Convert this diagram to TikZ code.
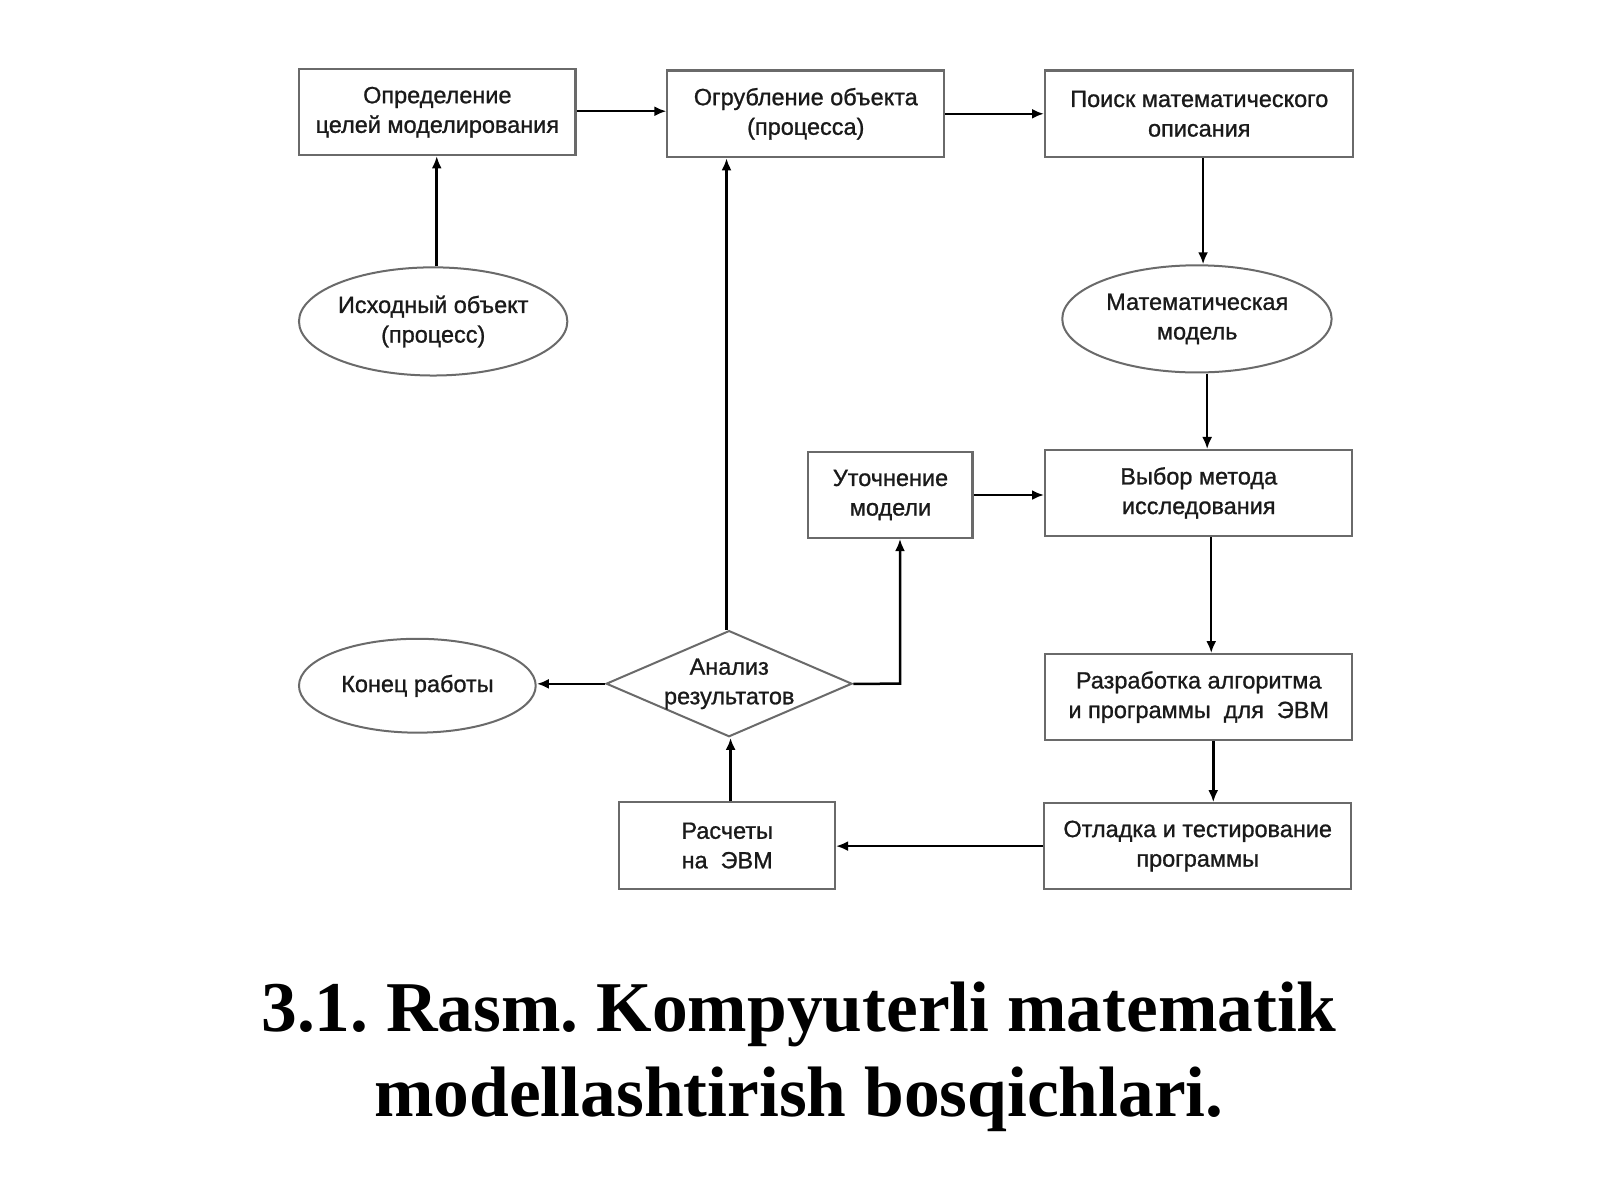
\documentclass[tikz,border=0pt]{standalone}
\usepackage{fontspec}
\setmainfont{Liberation Serif}
\newfontfamily\boxfont[FakeBold=1.0]{Liberation Sans}
\usetikzlibrary{shapes.geometric,arrows.meta}
\definecolor{edge}{HTML}{6A6A6A}
\definecolor{ink}{HTML}{1A1A1A}
\tikzset{
  txt/.style={font=\boxfont\fontsize{23}{29}\selectfont, text=ink, align=center, inner sep=0pt},
  boxnode/.style={draw=edge, line width=2.2pt, rectangle, inner sep=0pt, fill=white},
  ellnode/.style={draw=edge, line width=2pt, ellipse, inner sep=0pt, fill=white},
  dianode/.style={draw=edge, line width=2pt, diamond, inner sep=0pt, fill=white},
  arr/.style={draw=black, line width=2.5pt, -{Latex[length=12pt,width=10pt]}},
}
\begin{document}
\frenchspacing
\begin{tikzpicture}[x=1pt,y=-1pt,scale=1.0204,transform shape]
\useasboundingbox[fill=white] (0,0) rectangle (1568,1176);

% rectangles
\node (goal) [boxnode, minimum width=271, minimum height=84] at (428.5,110) {};
\node[txt] at (goal) {Определение\\целей моделирования};
\node (rough) [boxnode, minimum width=271, minimum height=85] at (789.5,111.5) {};
\node[txt] at (rough) {Огрубление объекта\\(процесса)};
\node (search) [boxnode, minimum width=302, minimum height=85] at (1175,111.5) {};
\node[txt] at (search) {Поиск математического\\описания};
\node (refine) [boxnode, minimum width=161, minimum height=84] at (872.5,485) {};
\node[txt] at (refine) {Уточнение\\модели};
\node (method) [boxnode, minimum width=301, minimum height=84] at (1174.5,483) {};
\node[txt] at (method) {Выбор метода\\исследования};
\node (algo) [boxnode, minimum width=301, minimum height=84] at (1174.5,683) {};
\node[txt] at (algo) {Разработка алгоритма\\и программы\ \ для\ \ ЭВМ};
\node (calc) [boxnode, minimum width=211, minimum height=85] at (712.5,828.5) {};
\node[txt] at (calc) {Расчеты\\на\ \ ЭВМ};
\node (debug) [boxnode, minimum width=301, minimum height=84] at (1173.5,829) {};
\node[txt] at (debug) {Отладка и тестирование\\программы};

% ellipses
\node (source) [ellnode, minimum width=263, minimum height=106] at (424.5,315) {};
\node[txt] at (source) {Исходный объект\\(процесс)};
\node (model) [ellnode, minimum width=264, minimum height=105] at (1173,312.5) {};
\node[txt] at (model) {Математическая\\модель};
\node (finish) [ellnode, minimum width=232, minimum height=92] at (409,672) {};
\node[txt] at (finish) {Конец работы};

% diamond
\node (analysis) [dianode, minimum width=241, minimum height=104] at (714.5,670) {};
\node[txt] at (analysis) {Анализ\\результатов};

% connectors
\draw[arr] (goal.east |- 0,109) -- (rough.west |- 0,109);
\draw[arr] (rough.east) -- (search.west);
\draw[arr] (source.north -| 428,0) -- (goal.south -| 428,0);
\draw[arr] (search.south -| 1179,0) -- (model.north -| 1179,0);
\draw[arr] (model.south -| 1183,0) -- (method.north -| 1183,0);
\draw[arr] (refine.east) -- (method.west |- refine.east);
\draw[arr] (method.south -| 1187,0) -- (algo.north -| 1187,0);
\draw[arr] (algo.south -| 1189,0) -- (debug.north -| 1189,0);
\draw[arr] (debug.west) -- (calc.east |- debug.west);
\draw[arr] (calc.north -| 716,0) -- (analysis.south -| 716,0);
\draw[arr] (analysis.west) -- (finish.east |- analysis.west);
\draw[arr] (analysis.east) -- (882,670) -- (refine.south -| 882,0);
\draw[arr] (analysis.north -| 712,0) -- (rough.south -| 712,0);

% caption
\node (cap) [font=\bfseries\fontsize{70}{83}\selectfont, align=center, inner sep=0pt] at (783,1036) {3.1. Rasm. Kompyuterli matematik\\modellashtirish bosqichlari.};
\end{tikzpicture}
\end{document}
